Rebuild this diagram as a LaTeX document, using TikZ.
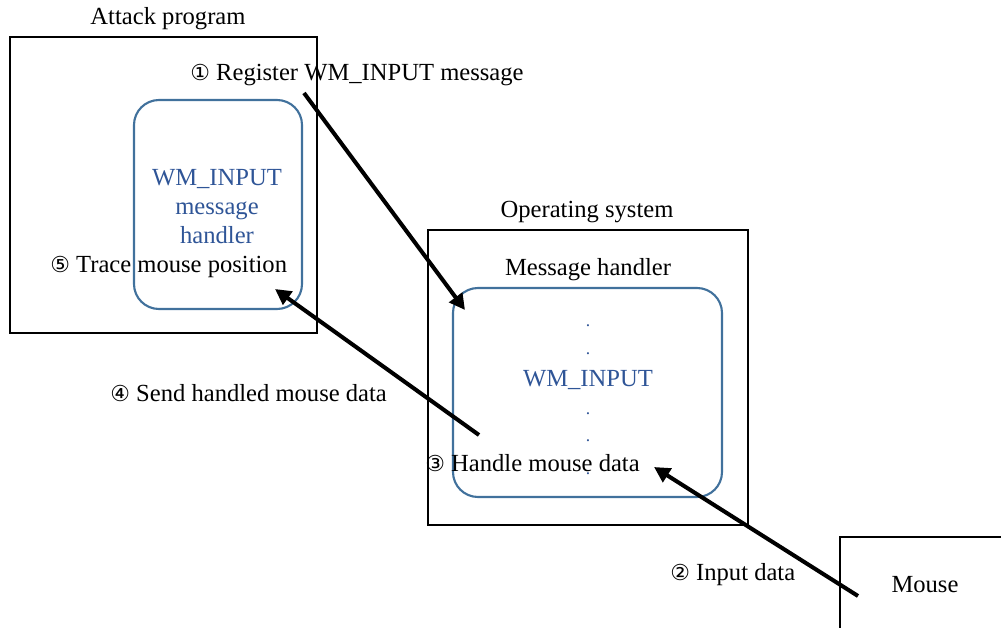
\documentclass[tikz,border=0pt]{standalone}
\usepackage{fontspec}
\setmainfont{Liberation Serif}
\newfontfamily\circfont{DejaVu Sans}
\usetikzlibrary{arrows.meta}
\definecolor{boxblue}{HTML}{41719C}
\definecolor{txtblue}{HTML}{2F5597}
\newcommand{\cn}[1]{{\circfont\fontsize{12.5}{14}\selectfont #1}}
\tikzset{
  lbl/.style={inner sep=0pt, font=\fontsize{14}{16}\selectfont, text=black},
  blbl/.style={inner sep=0pt, font=\fontsize{14}{16.5}\selectfont, text=txtblue, align=center},
  blackbox/.style={draw=black, line width=1.2pt},
  bluebox/.style={draw=boxblue, line width=1.2pt, rounded corners=0.5cm},
  bigarrow/.style={line width=2.3pt, -{Triangle[length=9pt,width=9pt]}},
}
\begin{document}
\begin{tikzpicture}[x=0.02cm,y=-0.02cm]
\useasboundingbox (0,0) rectangle (1001,628);
% boxes
\draw[blackbox] (10,37) rectangle (317,333);
\draw[bluebox] (134,100) rectangle (302,309);
\draw[blackbox] (428,230) rectangle (748,525);
\draw[bluebox] (453,288) rectangle (722,497);
\draw[blackbox] (840,537) rectangle (1010,640);
% labels
\node[lbl] (tap) at (168,19) {Attack program};
\node[lbl] (tos) at (587,212) {Operating system};
\node[lbl] (tmh) at (588,270) {Message handler};
\node[lbl] (tmo) at (925,585) {Mouse};
\node[blbl] (twh) at (217,207) {WM\_INPUT\\message\\handler};
\node[blbl] (twm) at (588,380) {WM\_INPUT};
\node[lbl, anchor=west] (t1) at (190,75) {\cn{①} Register WM\_INPUT message};
\node[lbl, anchor=west] (t2) at (670,575) {\cn{②} Input data};
\node[lbl, anchor=west] (t3) at (425,463) {\cn{③} Handle mouse data};
\node[lbl, anchor=west] (t4) at (110,393) {\cn{④} Send handled mouse data};
\node[lbl, anchor=west] (t5) at (50,267) {\cn{⑤} Trace mouse position};
% dots
\foreach \y [count=\i] in {326,354,414,441,474}
  \node[inner sep=0pt, text=txtblue, font=\fontsize{10}{10}\selectfont] (d\i) at (588,\y) {.};
% arrows
\coordinate (a1s) at (304,93);
\coordinate (a1e) at (465,310);
\coordinate (a4s) at (479,435);
\coordinate (a4e) at (275,289);
\coordinate (a2s) at (858,596);
\coordinate (a2e) at (654,467);
\draw[bigarrow] (a1s) -- (a1e);
\draw[bigarrow] (a4s) -- (a4e);
\draw[bigarrow] (a2s) -- (a2e);
\end{tikzpicture}
\end{document}
